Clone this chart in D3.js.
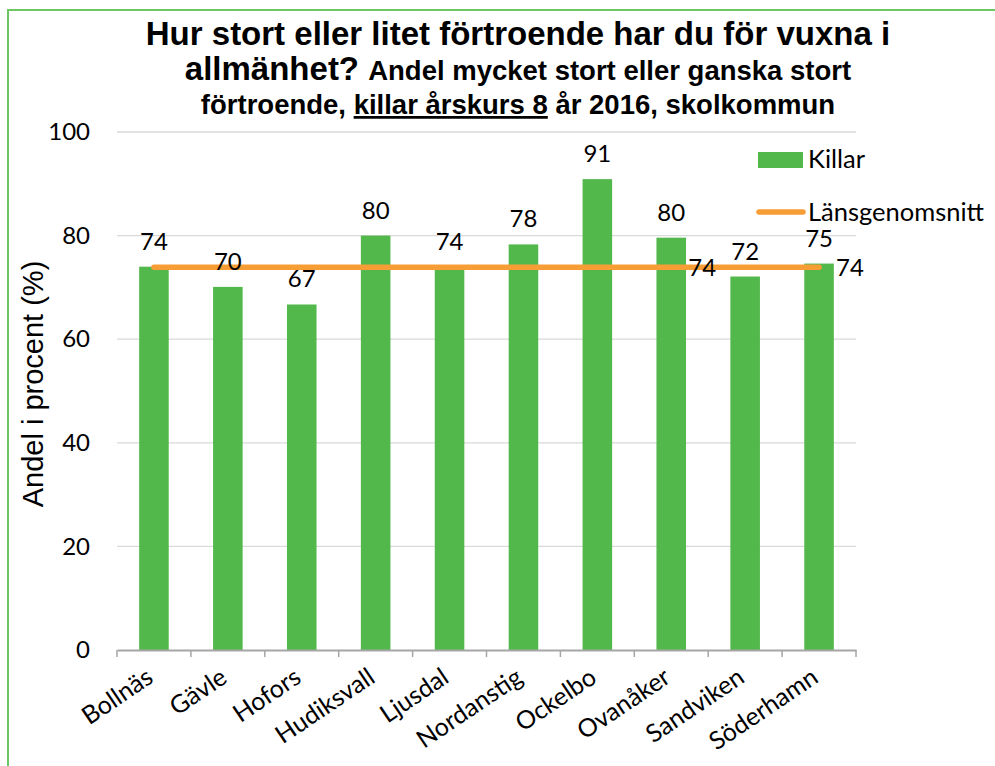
<!DOCTYPE html>
<html><head><meta charset="utf-8">
<script src="https://cdn.jsdelivr.net/npm/d3@7"></script>
<style>body{margin:0;background:#fff}svg{display:block}</style>
</head><body>
<svg id="c" width="995" height="766"></svg>
<script>
const categories = ["Bollnäs","Gävle","Hofors","Hudiksvall","Ljusdal","Nordanstig","Ockelbo","Ovanåker","Sandviken","Söderhamn"];
const killar = [74.0, 70.1, 66.7, 80.0, 74.0, 78.3, 90.9, 79.6, 72.1, 74.6];
const lansgenomsnitt = [73.9, 73.9, 73.9, 73.9, 73.9, 73.9, 73.9, 73.9, 73.9, 73.9];
const lineLabelIdx = [7, 9];
const yTicks = [0, 20, 40, 60, 80, 100];
const seriesNames = ["Killar", "Länsgenomsnitt"];

const svg = d3.select("#c");
const green = "#52b84b", orange = "#f79d36";
const tickFont = "Lato, 'Open Sans', sans-serif";

svg.append("rect").attr("x", 8).attr("y", 10).attr("width", 1000).attr("height", 800)
  .attr("fill", "#fff").attr("stroke", "#6cc663").attr("stroke-width", 2);

const x = d3.scaleBand().domain(categories).range([117, 856]).paddingInner(0.6).paddingOuter(0.3);
const xOuter = d3.scaleBand().domain(categories).range([117, 856]);
const y = d3.scaleLinear().domain([0, 100]).range([650, 132]);

// gridlines
svg.append("g").selectAll("line").data(yTicks.filter(d => d > 0)).join("line")
  .attr("x1", 117).attr("x2", 856).attr("y1", d => y(d)).attr("y2", d => y(d))
  .attr("stroke", "#d9d9d9").attr("stroke-width", 1.3);

// y axis labels
const yAxis = d3.axisLeft(y).tickValues(yTicks).tickSize(0).tickPadding(27);
const gy = svg.append("g").attr("transform", "translate(117,0)").call(yAxis);
gy.select(".domain").remove();
gy.selectAll("text").attr("font-family", tickFont).attr("font-size", 24).attr("fill", "#000");

// bars
svg.append("g").selectAll("rect").data(killar).join("rect")
  .attr("x", (d, i) => x(categories[i])).attr("width", x.bandwidth())
  .attr("y", d => y(d)).attr("height", d => y(0) - y(d)).attr("fill", green);

// x axis
const xAxis = d3.axisBottom(xOuter).tickSize(0).tickFormat("");
const gx = svg.append("g").attr("transform", "translate(0,650)").call(xAxis);
gx.select(".domain").attr("stroke", "#a6a6a6").attr("stroke-width", 2);
const bounds = categories.map(c => xOuter(c)).concat([856]);
gx.selectAll(".bt").data(bounds).join("line").attr("class", "bt")
  .attr("x1", d => d).attr("x2", d => d).attr("y1", 0).attr("y2", 7)
  .attr("stroke", "#a6a6a6").attr("stroke-width", 1.5);
svg.append("g").selectAll("text").data(categories).join("text")
  .attr("transform", d => `translate(${xOuter(d) + xOuter.bandwidth() / 2 - 4},674) rotate(-34)`)
  .attr("text-anchor", "end").attr("dy", "0.35em")
  .attr("font-family", tickFont).attr("font-size", 25).text(d => d);

// line
const line = d3.line().x((d, i) => xOuter(categories[i]) + xOuter.bandwidth() / 2).y(d => y(d));
svg.append("path").datum(lansgenomsnitt).attr("d", line).attr("fill", "none")
  .attr("stroke", orange).attr("stroke-width", 5.5).attr("stroke-linecap", "round");

// bar labels
const fmt = d3.format(".0f");
svg.append("g").selectAll("text").data(killar).join("text")
  .attr("x", (d, i) => x(categories[i]) + x.bandwidth() / 2).attr("y", d => y(d) - 17)
  .attr("text-anchor", "middle").attr("font-family", tickFont).attr("font-size", 24)
  .text(d => fmt(d));

// line labels
svg.append("g").selectAll("text").data(lineLabelIdx).join("text")
  .attr("x", i => xOuter(categories[i]) + xOuter.bandwidth() / 2 + 17)
  .attr("y", i => y(lansgenomsnitt[i])).attr("dy", "0.36em")
  .attr("font-family", tickFont).attr("font-size", 24)
  .text(i => fmt(lansgenomsnitt[i]));

// y axis title
svg.append("text").attr("transform", "translate(43,384) rotate(-90)")
  .attr("text-anchor", "middle").attr("font-family", "'Liberation Sans', Arial, sans-serif")
  .attr("font-size", 29).text("Andel i procent (%)");

// legend
const lg = svg.append("g");
lg.append("rect").attr("x", 758).attr("y", 152).attr("width", 45).attr("height", 16).attr("fill", green);
lg.append("text").attr("x", 808).attr("y", 168).attr("font-family", tickFont).attr("font-size", 25.5).text(seriesNames[0]);
lg.append("line").attr("x1", 759).attr("x2", 803).attr("y1", 212).attr("y2", 212)
  .attr("stroke", orange).attr("stroke-width", 5.5).attr("stroke-linecap", "round");
lg.append("text").attr("x", 808).attr("y", 221).attr("font-family", tickFont).attr("font-size", 25.5).text(seriesNames[1]);

// title
const tf = "'Liberation Sans', Arial, sans-serif";
const t = svg.append("g").attr("font-family", tf).attr("font-weight", "bold").attr("text-anchor", "middle");
t.append("text").attr("x", 518).attr("y", 45).attr("font-size", 33)
  .text("Hur stort eller litet förtroende har du för vuxna i");
const l2 = t.append("text").attr("x", 518).attr("y", 80);
l2.append("tspan").attr("font-size", 33).text("allmänhet? ");
l2.append("tspan").attr("font-size", 27.5).text("Andel mycket stort eller ganska stort");
const l3 = t.append("text").attr("x", 518).attr("y", 114).attr("font-size", 27.5);
l3.append("tspan").text("förtroende, ");
l3.append("tspan").attr("text-decoration", "underline").text("killar årskurs 8");
l3.append("tspan").text(" år 2016, skolkommun");
</script>
</body></html>
